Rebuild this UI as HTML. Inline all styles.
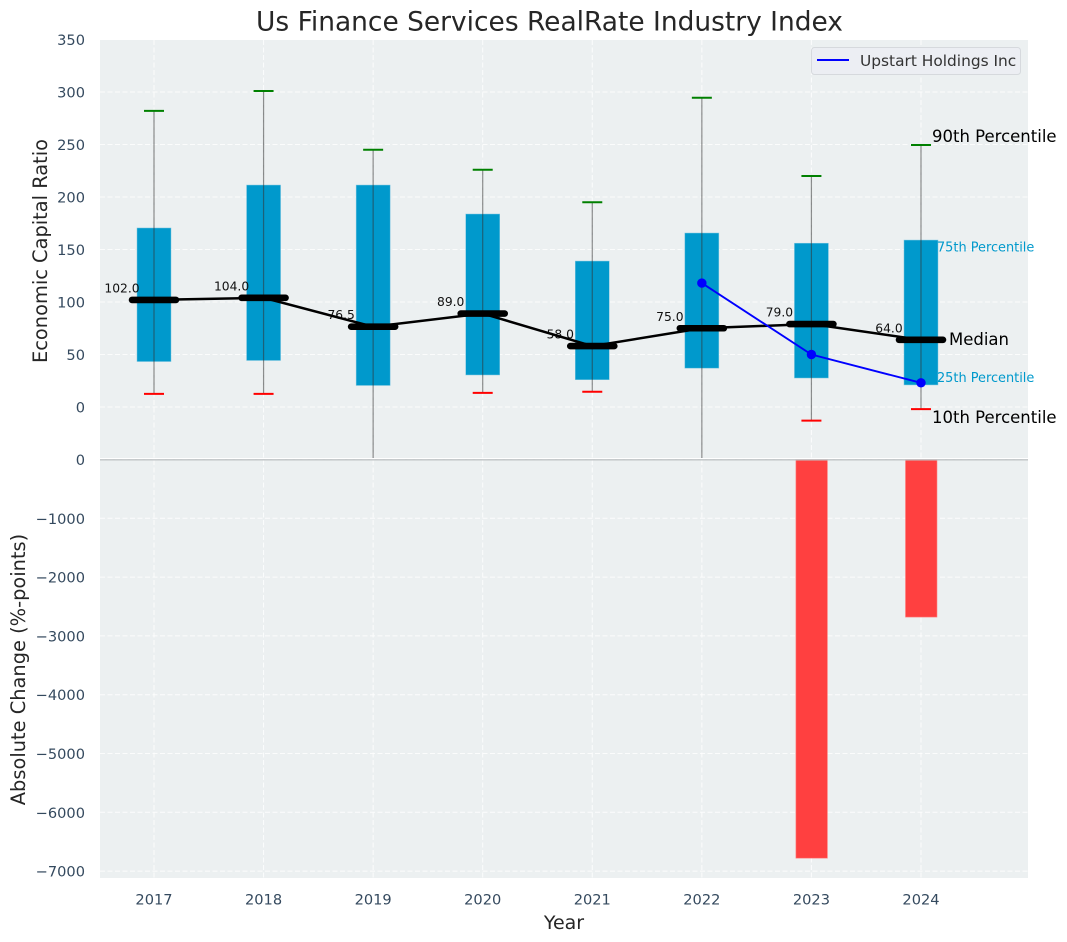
<!DOCTYPE html>
<html lang="en">
<head>
<meta charset="utf-8">
<title>Us Finance Services RealRate Industry Index</title>
<style>
html,body{margin:0;padding:0;background:#fff;width:1067px;height:942px;overflow:hidden}
svg{display:block;font-family:"DejaVu Sans","Liberation Sans",sans-serif}
</style>
</head>
<body>
<svg id="chart" xmlns="http://www.w3.org/2000/svg" width="1067" height="942" viewBox="0 0 1067 942">
  <defs>
    <clipPath id="top-clip"><rect x="100" y="40" width="928" height="418"/></clipPath>
  </defs>
  <rect x="100" y="40" width="928" height="419.5" fill="#ecf0f1"/>
  <rect x="100" y="459.5" width="928" height="418.5" fill="#ecf0f1"/>
  <g id="grid"></g>
  <g id="bars"></g>
  <g id="boxes" clip-path="url(#top-clip)"></g>
  <g id="labels"></g>
  <g id="medians"></g>
  <g id="company"></g>
  <g id="ticks"></g>
  <g id="notes"></g>
  <line x1="100" x2="1028" y1="458.5" y2="458.5" stroke="#ffffff" stroke-width="1"/>
  <line x1="100" x2="1028" y1="459.8" y2="459.8" stroke="#bfc3c5" stroke-width="1.4"/>
  <text x="549.5" y="30.5" font-size="26.45" fill="#262626" text-anchor="middle">Us Finance Services RealRate Industry Index</text>
  <text transform="translate(47,251) rotate(-90)" font-size="19.4" fill="#262626" text-anchor="middle">Economic Capital Ratio</text>
  <text transform="translate(25,669.5) rotate(-90)" font-size="19.4" fill="#262626" text-anchor="middle">Absolute Change (%-points)</text>
  <text x="564" y="929" font-size="19" fill="#262626" text-anchor="middle">Year</text>
  <g>
    <rect x="811.5" y="47.5" width="209" height="27" rx="3" fill="#eceef3" stroke="#d6d9dd" stroke-width="1"/>
    <line x1="817" x2="849" y1="60" y2="60" stroke="#0000ff" stroke-width="1.9"/>
    <text x="860" y="66" font-size="15.4" fill="#333333">Upstart Holdings Inc</text>
  </g>
</svg>
<script>
const years = [2017, 2018, 2019, 2020, 2021, 2022, 2023, 2024];
const p90 = [282, 301, 245, 226, 195, 294.5, 220, 249.5];
const p75 = [170.5, 211.4, 211.4, 183.8, 139, 165.7, 156, 159];
const median = [102, 104, 76.5, 89, 58, 75, 79, 64];
const p25 = [43.3, 44.3, 20.5, 30.5, 26, 37, 27.6, 21];
const p10 = [12.5, 12.5, -60, 13.5, 14.5, -60, -13, -2];
const companyYears = [2022, 2023, 2024];
const companyValues = [118, 50, 23];
const changeYears = [2023, 2024];
const changeValues = [-6780, -2680];
const topTicks = [0, 50, 100, 150, 200, 250, 300, 350];
const bottomTicks = [0, -1000, -2000, -3000, -4000, -5000, -6000, -7000];

const NS = 'http://www.w3.org/2000/svg';
const xScale = v => 154 + (v - 2017) * 109.57;
const yTop = v => 407 - v * 1.05;
const yBottom = v => 459.5 - v * 0.0588;
const fmt = v => (v < 0 ? '\u2212' : '') + Math.abs(v);

function mk(parent, tag, attrs, text) {
  const el = document.createElementNS(NS, tag);
  for (const k in attrs) el.setAttribute(k, attrs[k]);
  if (text !== undefined) el.textContent = text;
  document.getElementById(parent).appendChild(el);
  return el;
}

const gridDash = '5 2.5';
years.forEach(y => {
  const el = mk('grid', 'line', {x1: xScale(y), x2: xScale(y), y1: 40, y2: 878, stroke: '#fff', 'stroke-width': 1, 'stroke-dasharray': gridDash, opacity: .8});
  
  
});
topTicks.forEach(t => {
  const el = mk('grid', 'line', {x1: 100, x2: 1028, y1: yTop(t), y2: yTop(t), stroke: '#fff', 'stroke-width': 1, 'stroke-dasharray': gridDash, opacity: .8});
  
  
  const lb = mk('ticks', 'text', {x: 85, y: yTop(t) + 5.5, 'font-size': 14.6, fill: '#34495e', 'text-anchor': 'end'}, fmt(t));
  
  
});
bottomTicks.forEach(t => {
  const el = mk('grid', 'line', {x1: 100, x2: 1028, y1: yBottom(t), y2: yBottom(t), stroke: '#fff', 'stroke-width': 1, 'stroke-dasharray': gridDash, opacity: .8});
  
  
  const lb = mk('ticks', 'text', {x: 85, y: yBottom(t) + 5.5, 'font-size': 14.6, fill: '#34495e', 'text-anchor': 'end'}, fmt(t));
  
  
});
years.forEach(y => {
  const lb = mk('ticks', 'text', {x: xScale(y), y: 904.5, 'font-size': 14.6, fill: '#34495e', 'text-anchor': 'middle'}, y);
  
  
});

changeYears.forEach((y, i) => {
  const h = yBottom(changeValues[i]) - yBottom(0);
  const el = mk('bars', 'rect', {x: xScale(y) - 15.5, y: yBottom(0), width: 31.5, height: h, fill: '#ff4040', stroke: '#ff8080', 'stroke-width': .6});
  
  
});

years.forEach((y, i) => {
  const x = xScale(y);
  const box = mk('boxes', 'rect', {x: x - 17, y: yTop(p75[i]), width: 34, height: yTop(p25[i]) - yTop(p75[i]), fill: '#0099cc', stroke: '#7cc6e0', 'stroke-width': .5});
  
  
  const whisker = mk('boxes', 'line', {x1: x, x2: x, y1: yTop(p90[i]), y2: yTop(p10[i]), stroke: '#333', 'stroke-opacity': .55, 'stroke-width': 1.2});
  
  
  const capHi = mk('boxes', 'line', {x1: x - 10, x2: x + 10, y1: yTop(p90[i]), y2: yTop(p90[i]), stroke: '#008000', 'stroke-width': 2});
  
  
  const capLo = mk('boxes', 'line', {x1: x - 10, x2: x + 10, y1: yTop(p10[i]), y2: yTop(p10[i]), stroke: '#ff0000', 'stroke-width': 2});
  
  
  const lb = mk('labels', 'text', {x: x - 32, y: yTop(median[i]) - 7.5, 'font-size': 12.3, fill: '#111', 'text-anchor': 'middle'}, median[i].toFixed(1));
  
  
});

const medianPath = mk('medians', 'polyline', {points: years.map((y, i) => xScale(y) + ',' + yTop(median[i])).join(' '), fill: 'none', stroke: '#000', 'stroke-width': 2.5});


years.forEach((y, i) => {
  const el = mk('medians', 'line', {x1: xScale(y) - 22, x2: xScale(y) + 22, y1: yTop(median[i]), y2: yTop(median[i]), stroke: '#000', 'stroke-width': 6.6, 'stroke-linecap': 'round'});
  
  
});

const companyLine = mk('company', 'polyline', {points: companyYears.map((y, i) => xScale(y) + ',' + yTop(companyValues[i])).join(' '), fill: 'none', stroke: '#0000ff', 'stroke-width': 1.9});


companyYears.forEach((y, i) => {
  const el = mk('company', 'circle', {cx: xScale(y), cy: yTop(companyValues[i]), r: 4.7, fill: '#0000ff'});
  
  
});

const last = years.length - 1;
const lastX = xScale(years[last]);
const n90 = mk('notes', 'text', {x: lastX + 11, y: yTop(p90[last]) - 3, 'font-size': 16.5, fill: '#000'}, '90th Percentile');


const n75 = mk('notes', 'text', {x: lastX + 16, y: yTop(p75[last]) + 11.5, 'font-size': 12.9, fill: '#0099cc'}, '75th Percentile');


const nMed = mk('notes', 'text', {x: lastX + 28, y: yTop(median[last]) + 5, 'font-size': 16.5, fill: '#000'}, 'Median');


const n25 = mk('notes', 'text', {x: lastX + 16, y: yTop(p25[last]) - 3, 'font-size': 12.9, fill: '#0099cc'}, '25th Percentile');


const n10 = mk('notes', 'text', {x: lastX + 11, y: yTop(p10[last]) + 14, 'font-size': 16.5, fill: '#000'}, '10th Percentile');


</script>
</body>
</html>
